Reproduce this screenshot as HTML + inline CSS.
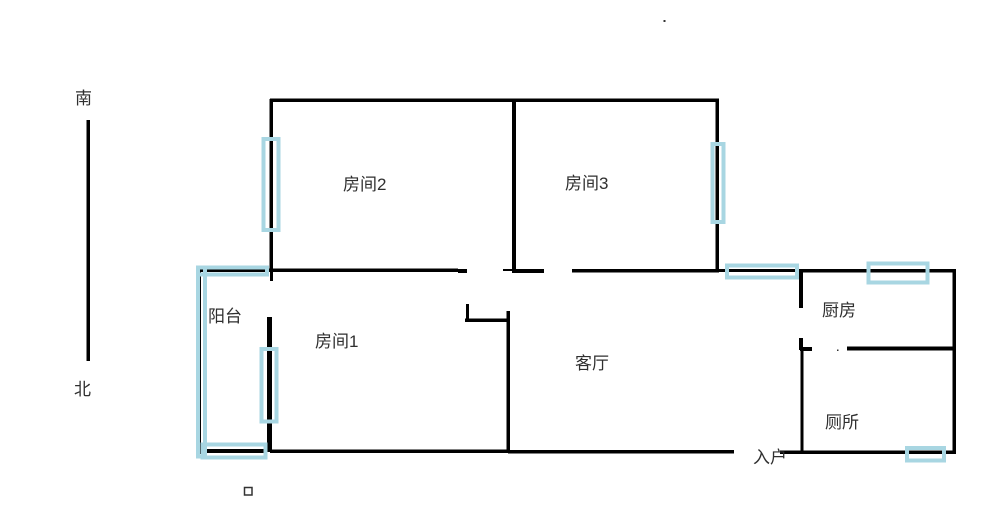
<!DOCTYPE html>
<html>
<head>
<meta charset="utf-8">
<style>
html,body{margin:0;padding:0;background:#fff;width:1000px;height:521px;overflow:hidden}
svg{display:block;filter:blur(0.35px)}
text{font-family:"Liberation Sans","Noto Sans CJK SC",sans-serif;font-size:17px;fill:#2f2f2f}
</style>
</head>
<body>
<svg width="1000" height="521" viewBox="0 0 1000 521" xmlns="http://www.w3.org/2000/svg">
<g fill="#000">
<!-- compass line -->
<rect x="86.500" y="120" width="3.500" height="241"/>
<!-- upper rooms -->
<rect x="270" y="98.500" width="449" height="3.500"/>
<rect x="269.500" y="99" width="3.500" height="172"/>
<rect x="512" y="99" width="4" height="172"/>
<rect x="715.500" y="99" width="3.500" height="172"/>
<!-- central horizontal -->
<rect x="199" y="268.500" width="259" height="3.500"/>
<rect x="458" y="269" width="9" height="4"/>
<rect x="503" y="269" width="10" height="2"/>
<rect x="512" y="269" width="32" height="4"/>
<rect x="572" y="269" width="147" height="3.500"/>
<rect x="719" y="269" width="80" height="3"/>
<rect x="270" y="269" width="3" height="12"/>
<!-- room 1 -->
<rect x="267" y="317" width="5" height="135"/>
<rect x="270" y="449.500" width="238" height="3.500"/>
<rect x="206" y="449" width="60" height="4"/>
<rect x="199" y="268" width="2" height="186"/>
<!-- door jamb -->
<rect x="466" y="304" width="3" height="18"/>
<rect x="465" y="318.500" width="44" height="3.500"/>
<rect x="506.500" y="311" width="3.500" height="142"/>
<!-- living bottom -->
<rect x="508" y="450" width="226" height="3.500"/>
<!-- kitchen/bath -->
<rect x="780" y="450.500" width="175" height="3.500"/>
<rect x="799" y="269" width="156" height="3.500"/>
<rect x="952.500" y="269" width="3.500" height="185"/>
<rect x="799" y="270" width="4" height="38"/>
<rect x="799" y="338" width="4" height="12"/>
<rect x="800" y="347" width="12" height="4"/>
<rect x="847" y="346.500" width="107" height="4"/>
<rect x="800.500" y="350" width="3" height="102"/>
<!-- dots -->
<rect x="663.500" y="20" width="2" height="2" fill="#333"/>
<rect x="837" y="349.500" width="1.500" height="1.500" fill="#333"/>
</g>
<g fill="none" stroke="#a8d6e2" stroke-width="4">
<rect x="263.500" y="139" width="15" height="91"/>
<rect x="712.500" y="144" width="11" height="78"/>
<rect x="198" y="267.500" width="69" height="7"/>
<rect x="198" y="267.500" width="7" height="189"/>
<rect x="202.500" y="444.500" width="63" height="13"/>
<rect x="261.500" y="349" width="15" height="72.500"/>
<rect x="727" y="265.500" width="70" height="12"/>
<rect x="868.500" y="263.500" width="59" height="19"/>
<rect x="907" y="448" width="37" height="12.500"/>
</g>
<rect x="244.500" y="487.500" width="7.500" height="7.500" fill="none" stroke="#333" stroke-width="1.500"/>
<text x="75" y="104">南</text>
<text x="74" y="395">北</text>
<text x="343" y="190">房间2</text>
<text x="565" y="189">房间3</text>
<text x="208" y="322">阳台</text>
<text x="315" y="347">房间1</text>
<text x="575" y="369">客厅</text>
<text x="822" y="316">厨房</text>
<text x="825" y="428">厕所</text>
<text x="753" y="463">入户</text>
</svg>
</body>
</html>
